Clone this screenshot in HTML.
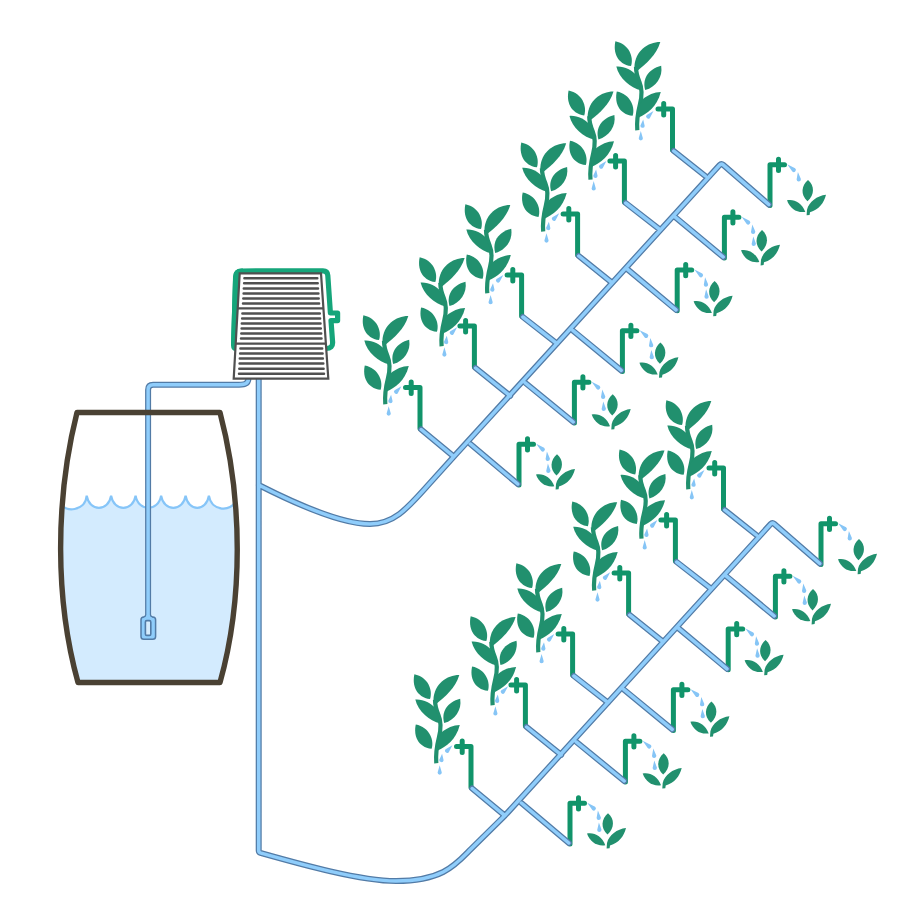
<!DOCTYPE html>
<html lang="en">
<head>
<meta charset="utf-8">
<title>Drip irrigation diagram</title>
<style>
html,body{margin:0;padding:0;background:#fff;}
body{width:900px;height:900px;overflow:hidden;font-family:"Liberation Sans",sans-serif;}
svg{display:block;}
</style>
</head>
<body>
<svg width="900" height="900" viewBox="0 0 900 900">
<rect width="900" height="900" fill="#fff"/>
<!-- barrel water -->
<path d="M62.3,504.5 C63.8,512 85.5,512 86.7,495.6 C89.2,511.9 108.6,511.9 111.1,495.6 C113.6,511.9 133.1,511.9 135.6,495.6 C138.1,511.9 158.6,511.9 161.1,495.6 C163.6,511.9 183.1,511.9 185.6,495.6 C188.1,511.9 206.4,511.9 208.9,495.6 C211.4,511.9 231.9,512 235.2,501 C240.6,563.3 235.5,626.9 220,682.5 L78,682.5 C62.8,627.9 57.6,565.7 62.3,504.5 Z" fill="#d3ebfe"/>
<path d="M62.3,504.5 C63.8,512 85.5,512 86.7,495.6 C89.2,511.9 108.6,511.9 111.1,495.6 C113.6,511.9 133.1,511.9 135.6,495.6 C138.1,511.9 158.6,511.9 161.1,495.6 C163.6,511.9 183.1,511.9 185.6,495.6 C188.1,511.9 206.4,511.9 208.9,495.6 C211.4,511.9 231.9,512 235.2,501" fill="none" stroke="#86c5f8" stroke-width="2.2"/>
<!-- pump green bracket -->
<path d="M233,277 Q233.2,268.4 241.5,268.4 L243,268.4 L238,351 L236,351 Q231,351 231,345 Z" fill="#15a57a"/>
<path d="M240,348.5 Q233.5,348.5 233.7,342 L235.7,277 Q235.9,271 242,271 L323,270.8 Q327.5,270.8 327.8,275.3 L330.4,313 L337.6,313 L337.6,320.6 L331,320.6 L332.6,342 Q333,348.5 326,348.5" fill="none" stroke="#15a57a" stroke-width="5.2" stroke-linejoin="round"/>
<!-- drippers and plants -->
<g transform="translate(0,0)"><g fill="#21906e"><path d="M385.3,404.3 C384.5,395 386,386 388,378 C390,370 390,362 387.5,356 C385,350 384,346 384,341" fill="none" stroke="#21906e" stroke-width="4.2" stroke-linecap="butt"/>
<path d="M363.4,315.2 C361,326 365,338 379,340.1 C382,331 377,318 363.4,315.2 Z"/>
<path d="M408.3,316.1 C396,316 383,325 382.4,341 L385.8,344.5 C394,338 404.5,329 408.3,316.1 Z"/>
<path d="M364.3,340.6 C372,340 380,344 384,349 L389.5,364.5 C378,362 367,352 364.3,340.6 Z"/>
<path d="M409.2,339.7 C396,343 390,353 393.2,364.1 C404,361 411,351 409.2,339.7 Z"/>
<path d="M364.8,365.4 C362.4,376 366.4,388 380.6,389.8 C383.4,381 378.4,368 364.8,365.4 Z"/>
<path d="M408.8,365.9 C402.5,366 395.5,369 390.6,373.2 L386.5,381 L386.6,391.5 C395,387.5 405,381 408.8,365.9 Z"/></g></g>
<g transform="translate(0,0)"><path d="M401.4,386.3 L394.6,390.3 A2.1,2.1 0 1 0 397.8,393.2 Z M391.1,394.7 L388.3,400.7 A2.1,2.1 0 1 0 392.6,401.2 Z M388.7,406.3 L386.6,413.6 A2.1,2.1 0 1 0 390.8,413.6 Z" fill="#86c5f6"/></g>
<g transform="translate(0,0)"><path d="M420,428.5 L420,387.5 L405.5,387.5 M411.2,382 L411.2,393.5" fill="none" stroke="#11946a" stroke-width="5" stroke-linecap="round" stroke-linejoin="round"/></g>
<g transform="translate(56.3,-58)"><g fill="#21906e"><path d="M385.3,404.3 C384.5,395 386,386 388,378 C390,370 390,362 387.5,356 C385,350 384,346 384,341" fill="none" stroke="#21906e" stroke-width="4.2" stroke-linecap="butt"/>
<path d="M363.4,315.2 C361,326 365,338 379,340.1 C382,331 377,318 363.4,315.2 Z"/>
<path d="M408.3,316.1 C396,316 383,325 382.4,341 L385.8,344.5 C394,338 404.5,329 408.3,316.1 Z"/>
<path d="M364.3,340.6 C372,340 380,344 384,349 L389.5,364.5 C378,362 367,352 364.3,340.6 Z"/>
<path d="M409.2,339.7 C396,343 390,353 393.2,364.1 C404,361 411,351 409.2,339.7 Z"/>
<path d="M364.8,365.4 C362.4,376 366.4,388 380.6,389.8 C383.4,381 378.4,368 364.8,365.4 Z"/>
<path d="M408.8,365.9 C402.5,366 395.5,369 390.6,373.2 L386.5,381 L386.6,391.5 C395,387.5 405,381 408.8,365.9 Z"/></g></g>
<g transform="translate(55.7,-59)"><path d="M401.4,386.3 L394.6,390.3 A2.1,2.1 0 1 0 397.8,393.2 Z M391.1,394.7 L388.3,400.7 A2.1,2.1 0 1 0 392.6,401.2 Z M388.7,406.3 L386.6,413.6 A2.1,2.1 0 1 0 390.8,413.6 Z" fill="#86c5f6"/></g>
<g transform="translate(54.4,-61.5)"><path d="M420,428.5 L420,387.5 L405.5,387.5 M411.2,382 L411.2,393.5" fill="none" stroke="#11946a" stroke-width="5" stroke-linecap="round" stroke-linejoin="round"/></g>
<g transform="translate(102,-111)"><g fill="#21906e"><path d="M385.3,404.3 C384.5,395 386,386 388,378 C390,370 390,362 387.5,356 C385,350 384,346 384,341" fill="none" stroke="#21906e" stroke-width="4.2" stroke-linecap="butt"/>
<path d="M363.4,315.2 C361,326 365,338 379,340.1 C382,331 377,318 363.4,315.2 Z"/>
<path d="M408.3,316.1 C396,316 383,325 382.4,341 L385.8,344.5 C394,338 404.5,329 408.3,316.1 Z"/>
<path d="M364.3,340.6 C372,340 380,344 384,349 L389.5,364.5 C378,362 367,352 364.3,340.6 Z"/>
<path d="M409.2,339.7 C396,343 390,353 393.2,364.1 C404,361 411,351 409.2,339.7 Z"/>
<path d="M364.8,365.4 C362.4,376 366.4,388 380.6,389.8 C383.4,381 378.4,368 364.8,365.4 Z"/>
<path d="M408.8,365.9 C402.5,366 395.5,369 390.6,373.2 L386.5,381 L386.6,391.5 C395,387.5 405,381 408.8,365.9 Z"/></g></g>
<g transform="translate(101.9,-111.4)"><path d="M401.4,386.3 L394.6,390.3 A2.1,2.1 0 1 0 397.8,393.2 Z M391.1,394.7 L388.3,400.7 A2.1,2.1 0 1 0 392.6,401.2 Z M388.7,406.3 L386.6,413.6 A2.1,2.1 0 1 0 390.8,413.6 Z" fill="#86c5f6"/></g>
<g transform="translate(101.6,-112.5)"><path d="M420,428.5 L420,387.5 L405.5,387.5 M411.2,382 L411.2,393.5" fill="none" stroke="#11946a" stroke-width="5" stroke-linecap="round" stroke-linejoin="round"/></g>
<g transform="translate(157.9,-172.8)"><g fill="#21906e"><path d="M385.3,404.3 C384.5,395 386,386 388,378 C390,370 390,362 387.5,356 C385,350 384,346 384,341" fill="none" stroke="#21906e" stroke-width="4.2" stroke-linecap="butt"/>
<path d="M363.4,315.2 C361,326 365,338 379,340.1 C382,331 377,318 363.4,315.2 Z"/>
<path d="M408.3,316.1 C396,316 383,325 382.4,341 L385.8,344.5 C394,338 404.5,329 408.3,316.1 Z"/>
<path d="M364.3,340.6 C372,340 380,344 384,349 L389.5,364.5 C378,362 367,352 364.3,340.6 Z"/>
<path d="M409.2,339.7 C396,343 390,353 393.2,364.1 C404,361 411,351 409.2,339.7 Z"/>
<path d="M364.8,365.4 C362.4,376 366.4,388 380.6,389.8 C383.4,381 378.4,368 364.8,365.4 Z"/>
<path d="M408.8,365.9 C402.5,366 395.5,369 390.6,373.2 L386.5,381 L386.6,391.5 C395,387.5 405,381 408.8,365.9 Z"/></g></g>
<g transform="translate(157.8,-173)"><path d="M401.4,386.3 L394.6,390.3 A2.1,2.1 0 1 0 397.8,393.2 Z M391.1,394.7 L388.3,400.7 A2.1,2.1 0 1 0 392.6,401.2 Z M388.7,406.3 L386.6,413.6 A2.1,2.1 0 1 0 390.8,413.6 Z" fill="#86c5f6"/></g>
<g transform="translate(157.6,-173.5)"><path d="M420,428.5 L420,387.5 L405.5,387.5 M411.2,382 L411.2,393.5" fill="none" stroke="#11946a" stroke-width="5" stroke-linecap="round" stroke-linejoin="round"/></g>
<g transform="translate(205.2,-224.7)"><g fill="#21906e"><path d="M385.3,404.3 C384.5,395 386,386 388,378 C390,370 390,362 387.5,356 C385,350 384,346 384,341" fill="none" stroke="#21906e" stroke-width="4.2" stroke-linecap="butt"/>
<path d="M363.4,315.2 C361,326 365,338 379,340.1 C382,331 377,318 363.4,315.2 Z"/>
<path d="M408.3,316.1 C396,316 383,325 382.4,341 L385.8,344.5 C394,338 404.5,329 408.3,316.1 Z"/>
<path d="M364.3,340.6 C372,340 380,344 384,349 L389.5,364.5 C378,362 367,352 364.3,340.6 Z"/>
<path d="M409.2,339.7 C396,343 390,353 393.2,364.1 C404,361 411,351 409.2,339.7 Z"/>
<path d="M364.8,365.4 C362.4,376 366.4,388 380.6,389.8 C383.4,381 378.4,368 364.8,365.4 Z"/>
<path d="M408.8,365.9 C402.5,366 395.5,369 390.6,373.2 L386.5,381 L386.6,391.5 C395,387.5 405,381 408.8,365.9 Z"/></g></g>
<g transform="translate(205,-225.2)"><path d="M401.4,386.3 L394.6,390.3 A2.1,2.1 0 1 0 397.8,393.2 Z M391.1,394.7 L388.3,400.7 A2.1,2.1 0 1 0 392.6,401.2 Z M388.7,406.3 L386.6,413.6 A2.1,2.1 0 1 0 390.8,413.6 Z" fill="#86c5f6"/></g>
<g transform="translate(204.4,-226.5)"><path d="M420,428.5 L420,387.5 L405.5,387.5 M411.2,382 L411.2,393.5" fill="none" stroke="#11946a" stroke-width="5" stroke-linecap="round" stroke-linejoin="round"/></g>
<g transform="translate(252,-274)"><g fill="#21906e"><path d="M385.3,404.3 C384.5,395 386,386 388,378 C390,370 390,362 387.5,356 C385,350 384,346 384,341" fill="none" stroke="#21906e" stroke-width="4.2" stroke-linecap="butt"/>
<path d="M363.4,315.2 C361,326 365,338 379,340.1 C382,331 377,318 363.4,315.2 Z"/>
<path d="M408.3,316.1 C396,316 383,325 382.4,341 L385.8,344.5 C394,338 404.5,329 408.3,316.1 Z"/>
<path d="M364.3,340.6 C372,340 380,344 384,349 L389.5,364.5 C378,362 367,352 364.3,340.6 Z"/>
<path d="M409.2,339.7 C396,343 390,353 393.2,364.1 C404,361 411,351 409.2,339.7 Z"/>
<path d="M364.8,365.4 C362.4,376 366.4,388 380.6,389.8 C383.4,381 378.4,368 364.8,365.4 Z"/>
<path d="M408.8,365.9 C402.5,366 395.5,369 390.6,373.2 L386.5,381 L386.6,391.5 C395,387.5 405,381 408.8,365.9 Z"/></g></g>
<g transform="translate(252.1,-275.3)"><path d="M401.4,386.3 L394.6,390.3 A2.1,2.1 0 1 0 397.8,393.2 Z M391.1,394.7 L388.3,400.7 A2.1,2.1 0 1 0 392.6,401.2 Z M388.7,406.3 L386.6,413.6 A2.1,2.1 0 1 0 390.8,413.6 Z" fill="#86c5f6"/></g>
<g transform="translate(252.5,-278.5)"><path d="M420,428.5 L420,387.5 L405.5,387.5 M411.2,382 L411.2,393.5" fill="none" stroke="#11946a" stroke-width="5" stroke-linecap="round" stroke-linejoin="round"/></g>
<g transform="translate(0,0)"><path d="M536.2,443.8 L541.3,451 A2.1,2.1 0 1 0 544.1,447.7 Z M546.9,451.5 L545.6,459 A2.1,2.1 0 1 0 549.9,458.5 Z M547.9,463.5 L546.2,470.9 A2.1,2.1 0 1 0 550.5,470.6 Z" fill="#86c5f6"/></g>
<g transform="translate(0,0)"><g fill="#21906e"><path d="M557,454.3 C550.3,460 549.3,469 556.5,475.6 C563.7,469 563.7,460 557,454.3 Z"/>
<path d="M536,474.5 C543,473 551,477 554.3,486.2 C546,487.5 539,483 536,474.5 Z"/>
<path d="M575,469 C566,470 558,476 556,484 L555.6,489.6 L558.6,489.2 L559,486.5 C568,484 573,477 575,469 Z"/></g></g>
<g transform="translate(0,0)"><path d="M519,485 L519,444.3 L533.5,444.3 M527.5,438.8 L527.5,450" fill="none" stroke="#11946a" stroke-width="5" stroke-linecap="round" stroke-linejoin="round"/></g>
<g transform="translate(55.4,-62)"><path d="M536.2,443.8 L541.3,451 A2.1,2.1 0 1 0 544.1,447.7 Z M546.9,451.5 L545.6,459 A2.1,2.1 0 1 0 549.9,458.5 Z M547.9,463.5 L546.2,470.9 A2.1,2.1 0 1 0 550.5,470.6 Z" fill="#86c5f6"/></g>
<g transform="translate(55.7,-60)"><g fill="#21906e"><path d="M557,454.3 C550.3,460 549.3,469 556.5,475.6 C563.7,469 563.7,460 557,454.3 Z"/>
<path d="M536,474.5 C543,473 551,477 554.3,486.2 C546,487.5 539,483 536,474.5 Z"/>
<path d="M575,469 C566,470 558,476 556,484 L555.6,489.6 L558.6,489.2 L559,486.5 C568,484 573,477 575,469 Z"/></g></g>
<g transform="translate(55.4,-62)"><path d="M519,485 L519,444.3 L533.5,444.3 M527.5,438.8 L527.5,450" fill="none" stroke="#11946a" stroke-width="5" stroke-linecap="round" stroke-linejoin="round"/></g>
<g transform="translate(103.4,-113.6)"><path d="M536.2,443.8 L541.3,451 A2.1,2.1 0 1 0 544.1,447.7 Z M546.9,451.5 L545.6,459 A2.1,2.1 0 1 0 549.9,458.5 Z M547.9,463.5 L546.2,470.9 A2.1,2.1 0 1 0 550.5,470.6 Z" fill="#86c5f6"/></g>
<g transform="translate(103.4,-111.8)"><g fill="#21906e"><path d="M557,454.3 C550.3,460 549.3,469 556.5,475.6 C563.7,469 563.7,460 557,454.3 Z"/>
<path d="M536,474.5 C543,473 551,477 554.3,486.2 C546,487.5 539,483 536,474.5 Z"/>
<path d="M575,469 C566,470 558,476 556,484 L555.6,489.6 L558.6,489.2 L559,486.5 C568,484 573,477 575,469 Z"/></g></g>
<g transform="translate(103.4,-113.6)"><path d="M519,485 L519,444.3 L533.5,444.3 M527.5,438.8 L527.5,450" fill="none" stroke="#11946a" stroke-width="5" stroke-linecap="round" stroke-linejoin="round"/></g>
<g transform="translate(158.2,-174.2)"><path d="M536.2,443.8 L541.3,451 A2.1,2.1 0 1 0 544.1,447.7 Z M546.9,451.5 L545.6,459 A2.1,2.1 0 1 0 549.9,458.5 Z M547.9,463.5 L546.2,470.9 A2.1,2.1 0 1 0 550.5,470.6 Z" fill="#86c5f6"/></g>
<g transform="translate(157.6,-173.3)"><g fill="#21906e"><path d="M557,454.3 C550.3,460 549.3,469 556.5,475.6 C563.7,469 563.7,460 557,454.3 Z"/>
<path d="M536,474.5 C543,473 551,477 554.3,486.2 C546,487.5 539,483 536,474.5 Z"/>
<path d="M575,469 C566,470 558,476 556,484 L555.6,489.6 L558.6,489.2 L559,486.5 C568,484 573,477 575,469 Z"/></g></g>
<g transform="translate(158.2,-174.2)"><path d="M519,485 L519,444.3 L533.5,444.3 M527.5,438.8 L527.5,450" fill="none" stroke="#11946a" stroke-width="5" stroke-linecap="round" stroke-linejoin="round"/></g>
<g transform="translate(205.4,-227)"><path d="M536.2,443.8 L541.3,451 A2.1,2.1 0 1 0 544.1,447.7 Z M546.9,451.5 L545.6,459 A2.1,2.1 0 1 0 549.9,458.5 Z M547.9,463.5 L546.2,470.9 A2.1,2.1 0 1 0 550.5,470.6 Z" fill="#86c5f6"/></g>
<g transform="translate(205,-224.2)"><g fill="#21906e"><path d="M557,454.3 C550.3,460 549.3,469 556.5,475.6 C563.7,469 563.7,460 557,454.3 Z"/>
<path d="M536,474.5 C543,473 551,477 554.3,486.2 C546,487.5 539,483 536,474.5 Z"/>
<path d="M575,469 C566,470 558,476 556,484 L555.6,489.6 L558.6,489.2 L559,486.5 C568,484 573,477 575,469 Z"/></g></g>
<g transform="translate(205.4,-227)"><path d="M519,485 L519,444.3 L533.5,444.3 M527.5,438.8 L527.5,450" fill="none" stroke="#11946a" stroke-width="5" stroke-linecap="round" stroke-linejoin="round"/></g>
<g transform="translate(251,-279.5)"><path d="M536.2,443.8 L541.3,451 A2.1,2.1 0 1 0 544.1,447.7 Z M546.9,451.5 L545.6,459 A2.1,2.1 0 1 0 549.9,458.5 Z" fill="#86c5f6"/></g>
<g transform="translate(251,-274.3)"><g fill="#21906e"><path d="M557,454.3 C550.3,460 549.3,469 556.5,475.6 C563.7,469 563.7,460 557,454.3 Z"/>
<path d="M536,474.5 C543,473 551,477 554.3,486.2 C546,487.5 539,483 536,474.5 Z"/>
<path d="M575,469 C566,470 558,476 556,484 L555.6,489.6 L558.6,489.2 L559,486.5 C568,484 573,477 575,469 Z"/></g></g>
<g transform="translate(251,-279.5)"><path d="M519,485 L519,444.3 L533.5,444.3 M527.5,438.8 L527.5,450" fill="none" stroke="#11946a" stroke-width="5" stroke-linecap="round" stroke-linejoin="round"/></g>
<g transform="translate(51,359)"><g fill="#21906e"><path d="M385.3,404.3 C384.5,395 386,386 388,378 C390,370 390,362 387.5,356 C385,350 384,346 384,341" fill="none" stroke="#21906e" stroke-width="4.2" stroke-linecap="butt"/>
<path d="M363.4,315.2 C361,326 365,338 379,340.1 C382,331 377,318 363.4,315.2 Z"/>
<path d="M408.3,316.1 C396,316 383,325 382.4,341 L385.8,344.5 C394,338 404.5,329 408.3,316.1 Z"/>
<path d="M364.3,340.6 C372,340 380,344 384,349 L389.5,364.5 C378,362 367,352 364.3,340.6 Z"/>
<path d="M409.2,339.7 C396,343 390,353 393.2,364.1 C404,361 411,351 409.2,339.7 Z"/>
<path d="M364.8,365.4 C362.4,376 366.4,388 380.6,389.8 C383.4,381 378.4,368 364.8,365.4 Z"/>
<path d="M408.8,365.9 C402.5,366 395.5,369 390.6,373.2 L386.5,381 L386.6,391.5 C395,387.5 405,381 408.8,365.9 Z"/></g></g>
<g transform="translate(51,359)"><path d="M401.4,386.3 L394.6,390.3 A2.1,2.1 0 1 0 397.8,393.2 Z M391.1,394.7 L388.3,400.7 A2.1,2.1 0 1 0 392.6,401.2 Z M388.7,406.3 L386.6,413.6 A2.1,2.1 0 1 0 390.8,413.6 Z" fill="#86c5f6"/></g>
<g transform="translate(51,359)"><path d="M420,428.5 L420,387.5 L405.5,387.5 M411.2,382 L411.2,393.5" fill="none" stroke="#11946a" stroke-width="5" stroke-linecap="round" stroke-linejoin="round"/></g>
<g transform="translate(107.3,301)"><g fill="#21906e"><path d="M385.3,404.3 C384.5,395 386,386 388,378 C390,370 390,362 387.5,356 C385,350 384,346 384,341" fill="none" stroke="#21906e" stroke-width="4.2" stroke-linecap="butt"/>
<path d="M363.4,315.2 C361,326 365,338 379,340.1 C382,331 377,318 363.4,315.2 Z"/>
<path d="M408.3,316.1 C396,316 383,325 382.4,341 L385.8,344.5 C394,338 404.5,329 408.3,316.1 Z"/>
<path d="M364.3,340.6 C372,340 380,344 384,349 L389.5,364.5 C378,362 367,352 364.3,340.6 Z"/>
<path d="M409.2,339.7 C396,343 390,353 393.2,364.1 C404,361 411,351 409.2,339.7 Z"/>
<path d="M364.8,365.4 C362.4,376 366.4,388 380.6,389.8 C383.4,381 378.4,368 364.8,365.4 Z"/>
<path d="M408.8,365.9 C402.5,366 395.5,369 390.6,373.2 L386.5,381 L386.6,391.5 C395,387.5 405,381 408.8,365.9 Z"/></g></g>
<g transform="translate(106.7,299.9)"><path d="M401.4,386.3 L394.6,390.3 A2.1,2.1 0 1 0 397.8,393.2 Z M391.1,394.7 L388.3,400.7 A2.1,2.1 0 1 0 392.6,401.2 Z M388.7,406.3 L386.6,413.6 A2.1,2.1 0 1 0 390.8,413.6 Z" fill="#86c5f6"/></g>
<g transform="translate(105.4,297.5)"><path d="M420,428.5 L420,387.5 L405.5,387.5 M411.2,382 L411.2,393.5" fill="none" stroke="#11946a" stroke-width="5" stroke-linecap="round" stroke-linejoin="round"/></g>
<g transform="translate(153,248)"><g fill="#21906e"><path d="M385.3,404.3 C384.5,395 386,386 388,378 C390,370 390,362 387.5,356 C385,350 384,346 384,341" fill="none" stroke="#21906e" stroke-width="4.2" stroke-linecap="butt"/>
<path d="M363.4,315.2 C361,326 365,338 379,340.1 C382,331 377,318 363.4,315.2 Z"/>
<path d="M408.3,316.1 C396,316 383,325 382.4,341 L385.8,344.5 C394,338 404.5,329 408.3,316.1 Z"/>
<path d="M364.3,340.6 C372,340 380,344 384,349 L389.5,364.5 C378,362 367,352 364.3,340.6 Z"/>
<path d="M409.2,339.7 C396,343 390,353 393.2,364.1 C404,361 411,351 409.2,339.7 Z"/>
<path d="M364.8,365.4 C362.4,376 366.4,388 380.6,389.8 C383.4,381 378.4,368 364.8,365.4 Z"/>
<path d="M408.8,365.9 C402.5,366 395.5,369 390.6,373.2 L386.5,381 L386.6,391.5 C395,387.5 405,381 408.8,365.9 Z"/></g></g>
<g transform="translate(152.9,247.6)"><path d="M401.4,386.3 L394.6,390.3 A2.1,2.1 0 1 0 397.8,393.2 Z M391.1,394.7 L388.3,400.7 A2.1,2.1 0 1 0 392.6,401.2 Z M388.7,406.3 L386.6,413.6 A2.1,2.1 0 1 0 390.8,413.6 Z" fill="#86c5f6"/></g>
<g transform="translate(152.6,246.5)"><path d="M420,428.5 L420,387.5 L405.5,387.5 M411.2,382 L411.2,393.5" fill="none" stroke="#11946a" stroke-width="5" stroke-linecap="round" stroke-linejoin="round"/></g>
<g transform="translate(208.9,186.2)"><g fill="#21906e"><path d="M385.3,404.3 C384.5,395 386,386 388,378 C390,370 390,362 387.5,356 C385,350 384,346 384,341" fill="none" stroke="#21906e" stroke-width="4.2" stroke-linecap="butt"/>
<path d="M363.4,315.2 C361,326 365,338 379,340.1 C382,331 377,318 363.4,315.2 Z"/>
<path d="M408.3,316.1 C396,316 383,325 382.4,341 L385.8,344.5 C394,338 404.5,329 408.3,316.1 Z"/>
<path d="M364.3,340.6 C372,340 380,344 384,349 L389.5,364.5 C378,362 367,352 364.3,340.6 Z"/>
<path d="M409.2,339.7 C396,343 390,353 393.2,364.1 C404,361 411,351 409.2,339.7 Z"/>
<path d="M364.8,365.4 C362.4,376 366.4,388 380.6,389.8 C383.4,381 378.4,368 364.8,365.4 Z"/>
<path d="M408.8,365.9 C402.5,366 395.5,369 390.6,373.2 L386.5,381 L386.6,391.5 C395,387.5 405,381 408.8,365.9 Z"/></g></g>
<g transform="translate(208.8,186)"><path d="M401.4,386.3 L394.6,390.3 A2.1,2.1 0 1 0 397.8,393.2 Z M391.1,394.7 L388.3,400.7 A2.1,2.1 0 1 0 392.6,401.2 Z M388.7,406.3 L386.6,413.6 A2.1,2.1 0 1 0 390.8,413.6 Z" fill="#86c5f6"/></g>
<g transform="translate(208.6,185.5)"><path d="M420,428.5 L420,387.5 L405.5,387.5 M411.2,382 L411.2,393.5" fill="none" stroke="#11946a" stroke-width="5" stroke-linecap="round" stroke-linejoin="round"/></g>
<g transform="translate(256.2,134.3)"><g fill="#21906e"><path d="M385.3,404.3 C384.5,395 386,386 388,378 C390,370 390,362 387.5,356 C385,350 384,346 384,341" fill="none" stroke="#21906e" stroke-width="4.2" stroke-linecap="butt"/>
<path d="M363.4,315.2 C361,326 365,338 379,340.1 C382,331 377,318 363.4,315.2 Z"/>
<path d="M408.3,316.1 C396,316 383,325 382.4,341 L385.8,344.5 C394,338 404.5,329 408.3,316.1 Z"/>
<path d="M364.3,340.6 C372,340 380,344 384,349 L389.5,364.5 C378,362 367,352 364.3,340.6 Z"/>
<path d="M409.2,339.7 C396,343 390,353 393.2,364.1 C404,361 411,351 409.2,339.7 Z"/>
<path d="M364.8,365.4 C362.4,376 366.4,388 380.6,389.8 C383.4,381 378.4,368 364.8,365.4 Z"/>
<path d="M408.8,365.9 C402.5,366 395.5,369 390.6,373.2 L386.5,381 L386.6,391.5 C395,387.5 405,381 408.8,365.9 Z"/></g></g>
<g transform="translate(256,133.8)"><path d="M401.4,386.3 L394.6,390.3 A2.1,2.1 0 1 0 397.8,393.2 Z M391.1,394.7 L388.3,400.7 A2.1,2.1 0 1 0 392.6,401.2 Z M388.7,406.3 L386.6,413.6 A2.1,2.1 0 1 0 390.8,413.6 Z" fill="#86c5f6"/></g>
<g transform="translate(255.4,132.5)"><path d="M420,428.5 L420,387.5 L405.5,387.5 M411.2,382 L411.2,393.5" fill="none" stroke="#11946a" stroke-width="5" stroke-linecap="round" stroke-linejoin="round"/></g>
<g transform="translate(303,85)"><g fill="#21906e"><path d="M385.3,404.3 C384.5,395 386,386 388,378 C390,370 390,362 387.5,356 C385,350 384,346 384,341" fill="none" stroke="#21906e" stroke-width="4.2" stroke-linecap="butt"/>
<path d="M363.4,315.2 C361,326 365,338 379,340.1 C382,331 377,318 363.4,315.2 Z"/>
<path d="M408.3,316.1 C396,316 383,325 382.4,341 L385.8,344.5 C394,338 404.5,329 408.3,316.1 Z"/>
<path d="M364.3,340.6 C372,340 380,344 384,349 L389.5,364.5 C378,362 367,352 364.3,340.6 Z"/>
<path d="M409.2,339.7 C396,343 390,353 393.2,364.1 C404,361 411,351 409.2,339.7 Z"/>
<path d="M364.8,365.4 C362.4,376 366.4,388 380.6,389.8 C383.4,381 378.4,368 364.8,365.4 Z"/>
<path d="M408.8,365.9 C402.5,366 395.5,369 390.6,373.2 L386.5,381 L386.6,391.5 C395,387.5 405,381 408.8,365.9 Z"/></g></g>
<g transform="translate(303.1,83.7)"><path d="M401.4,386.3 L394.6,390.3 A2.1,2.1 0 1 0 397.8,393.2 Z M391.1,394.7 L388.3,400.7 A2.1,2.1 0 1 0 392.6,401.2 Z M388.7,406.3 L386.6,413.6 A2.1,2.1 0 1 0 390.8,413.6 Z" fill="#86c5f6"/></g>
<g transform="translate(303.5,80.5)"><path d="M420,428.5 L420,387.5 L405.5,387.5 M411.2,382 L411.2,393.5" fill="none" stroke="#11946a" stroke-width="5" stroke-linecap="round" stroke-linejoin="round"/></g>
<g transform="translate(51,359)"><path d="M536.2,443.8 L541.3,451 A2.1,2.1 0 1 0 544.1,447.7 Z M546.9,451.5 L545.6,459 A2.1,2.1 0 1 0 549.9,458.5 Z M547.9,463.5 L546.2,470.9 A2.1,2.1 0 1 0 550.5,470.6 Z" fill="#86c5f6"/></g>
<g transform="translate(51,359)"><g fill="#21906e"><path d="M557,454.3 C550.3,460 549.3,469 556.5,475.6 C563.7,469 563.7,460 557,454.3 Z"/>
<path d="M536,474.5 C543,473 551,477 554.3,486.2 C546,487.5 539,483 536,474.5 Z"/>
<path d="M575,469 C566,470 558,476 556,484 L555.6,489.6 L558.6,489.2 L559,486.5 C568,484 573,477 575,469 Z"/></g></g>
<g transform="translate(51,359)"><path d="M519,485 L519,444.3 L533.5,444.3 M527.5,438.8 L527.5,450" fill="none" stroke="#11946a" stroke-width="5" stroke-linecap="round" stroke-linejoin="round"/></g>
<g transform="translate(106.4,297)"><path d="M536.2,443.8 L541.3,451 A2.1,2.1 0 1 0 544.1,447.7 Z M546.9,451.5 L545.6,459 A2.1,2.1 0 1 0 549.9,458.5 Z M547.9,463.5 L546.2,470.9 A2.1,2.1 0 1 0 550.5,470.6 Z" fill="#86c5f6"/></g>
<g transform="translate(106.7,299)"><g fill="#21906e"><path d="M557,454.3 C550.3,460 549.3,469 556.5,475.6 C563.7,469 563.7,460 557,454.3 Z"/>
<path d="M536,474.5 C543,473 551,477 554.3,486.2 C546,487.5 539,483 536,474.5 Z"/>
<path d="M575,469 C566,470 558,476 556,484 L555.6,489.6 L558.6,489.2 L559,486.5 C568,484 573,477 575,469 Z"/></g></g>
<g transform="translate(106.4,297)"><path d="M519,485 L519,444.3 L533.5,444.3 M527.5,438.8 L527.5,450" fill="none" stroke="#11946a" stroke-width="5" stroke-linecap="round" stroke-linejoin="round"/></g>
<g transform="translate(154.4,245.4)"><path d="M536.2,443.8 L541.3,451 A2.1,2.1 0 1 0 544.1,447.7 Z M546.9,451.5 L545.6,459 A2.1,2.1 0 1 0 549.9,458.5 Z M547.9,463.5 L546.2,470.9 A2.1,2.1 0 1 0 550.5,470.6 Z" fill="#86c5f6"/></g>
<g transform="translate(154.4,247.2)"><g fill="#21906e"><path d="M557,454.3 C550.3,460 549.3,469 556.5,475.6 C563.7,469 563.7,460 557,454.3 Z"/>
<path d="M536,474.5 C543,473 551,477 554.3,486.2 C546,487.5 539,483 536,474.5 Z"/>
<path d="M575,469 C566,470 558,476 556,484 L555.6,489.6 L558.6,489.2 L559,486.5 C568,484 573,477 575,469 Z"/></g></g>
<g transform="translate(154.4,245.4)"><path d="M519,485 L519,444.3 L533.5,444.3 M527.5,438.8 L527.5,450" fill="none" stroke="#11946a" stroke-width="5" stroke-linecap="round" stroke-linejoin="round"/></g>
<g transform="translate(209.2,184.8)"><path d="M536.2,443.8 L541.3,451 A2.1,2.1 0 1 0 544.1,447.7 Z M546.9,451.5 L545.6,459 A2.1,2.1 0 1 0 549.9,458.5 Z M547.9,463.5 L546.2,470.9 A2.1,2.1 0 1 0 550.5,470.6 Z" fill="#86c5f6"/></g>
<g transform="translate(208.6,185.7)"><g fill="#21906e"><path d="M557,454.3 C550.3,460 549.3,469 556.5,475.6 C563.7,469 563.7,460 557,454.3 Z"/>
<path d="M536,474.5 C543,473 551,477 554.3,486.2 C546,487.5 539,483 536,474.5 Z"/>
<path d="M575,469 C566,470 558,476 556,484 L555.6,489.6 L558.6,489.2 L559,486.5 C568,484 573,477 575,469 Z"/></g></g>
<g transform="translate(209.2,184.8)"><path d="M519,485 L519,444.3 L533.5,444.3 M527.5,438.8 L527.5,450" fill="none" stroke="#11946a" stroke-width="5" stroke-linecap="round" stroke-linejoin="round"/></g>
<g transform="translate(256.4,132)"><path d="M536.2,443.8 L541.3,451 A2.1,2.1 0 1 0 544.1,447.7 Z M546.9,451.5 L545.6,459 A2.1,2.1 0 1 0 549.9,458.5 Z M547.9,463.5 L546.2,470.9 A2.1,2.1 0 1 0 550.5,470.6 Z" fill="#86c5f6"/></g>
<g transform="translate(256,134.8)"><g fill="#21906e"><path d="M557,454.3 C550.3,460 549.3,469 556.5,475.6 C563.7,469 563.7,460 557,454.3 Z"/>
<path d="M536,474.5 C543,473 551,477 554.3,486.2 C546,487.5 539,483 536,474.5 Z"/>
<path d="M575,469 C566,470 558,476 556,484 L555.6,489.6 L558.6,489.2 L559,486.5 C568,484 573,477 575,469 Z"/></g></g>
<g transform="translate(256.4,132)"><path d="M519,485 L519,444.3 L533.5,444.3 M527.5,438.8 L527.5,450" fill="none" stroke="#11946a" stroke-width="5" stroke-linecap="round" stroke-linejoin="round"/></g>
<g transform="translate(302,79.5)"><path d="M536.2,443.8 L541.3,451 A2.1,2.1 0 1 0 544.1,447.7 Z M546.9,451.5 L545.6,459 A2.1,2.1 0 1 0 549.9,458.5 Z" fill="#86c5f6"/></g>
<g transform="translate(302,84.7)"><g fill="#21906e"><path d="M557,454.3 C550.3,460 549.3,469 556.5,475.6 C563.7,469 563.7,460 557,454.3 Z"/>
<path d="M536,474.5 C543,473 551,477 554.3,486.2 C546,487.5 539,483 536,474.5 Z"/>
<path d="M575,469 C566,470 558,476 556,484 L555.6,489.6 L558.6,489.2 L559,486.5 C568,484 573,477 575,469 Z"/></g></g>
<g transform="translate(302,79.5)"><path d="M519,485 L519,444.3 L533.5,444.3 M527.5,438.8 L527.5,450" fill="none" stroke="#11946a" stroke-width="5" stroke-linecap="round" stroke-linejoin="round"/></g>
<!-- pipes -->
<path d="M421.2,429.5L453.9,456.6 M475.6,368L510.2,395.8 M522.9,317L557,343.7 M578.8,256L611.6,282.4 M625.7,203L659.3,229.2 M673.8,151L705.3,176 M470.4,444L517.8,484 M525.2,382.8L573.2,422 M573,330.7L621.2,370.4 M627.6,269.4L676,309.8 M675.3,217.2L723.2,257 M472.2,788.5L504.9,815.6 M526.6,727L561.2,754.8 M573.9,676L608,702.7 M629.8,615L662.6,641.4 M676.7,562L710.3,588.2 M724.8,510L756.3,535 M521.4,803L568.8,843 M576.2,741.8L624.2,781 M624,689.7L672.2,729.4 M678.6,628.4L727,668.8 M726.3,576.2L774.2,616 M258.7,485 C300,506 342,524 370,524 C395,524 408,507.4 430,483 L453.9,456.6 L719.6,165.1 Q721.3,163.3 723.2,164.9 L768.8,204.5 M258.7,378 L258.7,850.5 Q258.7,852.3 260.5,852.9 C300,864 360,881 396,881 C444,881 456.5,863.5 471.2,848.8 L504.9,815.6 L770.6,524.1 Q772.3,522.3 774.2,523.9 L819.8,563.5 M248.5,378 C248.5,385 243,384.8 235,384.8 L153.1,384.8 Q148.1,384.8 148.1,389.8 L148.1,617" fill="none" stroke="#527ba6" stroke-width="6" stroke-linecap="round" stroke-linejoin="round"/>
<path d="M421.2,429.5L453.9,456.6 M475.6,368L510.2,395.8 M522.9,317L557,343.7 M578.8,256L611.6,282.4 M625.7,203L659.3,229.2 M673.8,151L705.3,176 M470.4,444L517.8,484 M525.2,382.8L573.2,422 M573,330.7L621.2,370.4 M627.6,269.4L676,309.8 M675.3,217.2L723.2,257 M472.2,788.5L504.9,815.6 M526.6,727L561.2,754.8 M573.9,676L608,702.7 M629.8,615L662.6,641.4 M676.7,562L710.3,588.2 M724.8,510L756.3,535 M521.4,803L568.8,843 M576.2,741.8L624.2,781 M624,689.7L672.2,729.4 M678.6,628.4L727,668.8 M726.3,576.2L774.2,616 M258.7,485 C300,506 342,524 370,524 C395,524 408,507.4 430,483 L453.9,456.6 L719.6,165.1 Q721.3,163.3 723.2,164.9 L768.8,204.5 M258.7,378 L258.7,850.5 Q258.7,852.3 260.5,852.9 C300,864 360,881 396,881 C444,881 456.5,863.5 471.2,848.8 L504.9,815.6 L770.6,524.1 Q772.3,522.3 774.2,523.9 L819.8,563.5 M248.5,378 C248.5,385 243,384.8 235,384.8 L153.1,384.8 Q148.1,384.8 148.1,389.8 L148.1,617" fill="none" stroke="#8fcdfb" stroke-width="3.5" stroke-linecap="round" stroke-linejoin="round"/>
<!-- filter -->
<rect x="141" y="617" width="14.6" height="22.3" rx="2.8" fill="#8fcdfb" stroke="#527ba6" stroke-width="1.5"/>
<path d="M144.2,617 Q145.8,616.7 145.9,615 L150.3,615 Q150.4,616.7 152,617 L152,618.3 L144.2,618.3 Z" fill="#8fcdfb"/>
<path d="M143.8,616.8 Q145.5,616.5 145.7,614.8 M152.4,616.8 Q150.7,616.5 150.5,614.8" fill="none" stroke="#527ba6" stroke-width="1.3"/>
<rect x="145.4" y="620.6" width="5.4" height="14.8" rx="1.4" fill="#d6ecfd" stroke="#527ba6" stroke-width="1.6"/>
<!-- barrel outline -->
<path d="M77,412.5 L220,412.5 C243,500 243,600 220,682.5 L78,682.5 C55,600 55,500 77,412.5 Z" fill="none" stroke="#4a4133" stroke-width="5.4" stroke-linejoin="round"/>
<!-- pump body -->
<path d="M239.7,273.3 L321,273.3 L328.3,378.7 L233.7,378.7 Z" fill="#fff" stroke="#505050" stroke-width="2.2" stroke-linejoin="miter"/>
<path d="M237.7,308.4L323.4,308.4 M235.7,343.6L325.9,343.6" fill="none" stroke="#505050" stroke-width="2.3"/>
<path d="M244.4,278.3L317.3,278.3 M244.1,283.3L317.7,283.3 M243.8,288.4L318,288.4 M243.6,293.4L318.4,293.4 M243.3,298.4L318.7,298.4 M243,303.4L319.1,303.4 M242.4,313.5L319.8,313.5 M242.1,318.5L320.1,318.5 M241.8,323.5L320.5,323.5 M241.6,328.5L320.8,328.5 M241.3,333.5L321.2,333.5 M241,338.5L321.5,338.5 M240.4,348.6L322.2,348.6 M240.1,353.6L322.6,353.6 M239.8,358.6L322.9,358.6 M239.6,363.6L323.3,363.6 M239.3,368.7L323.6,368.7 M239,373.7L324,373.7" fill="none" stroke="#505050" stroke-width="2.5" stroke-linecap="round"/>
</svg>
</body>
</html>
